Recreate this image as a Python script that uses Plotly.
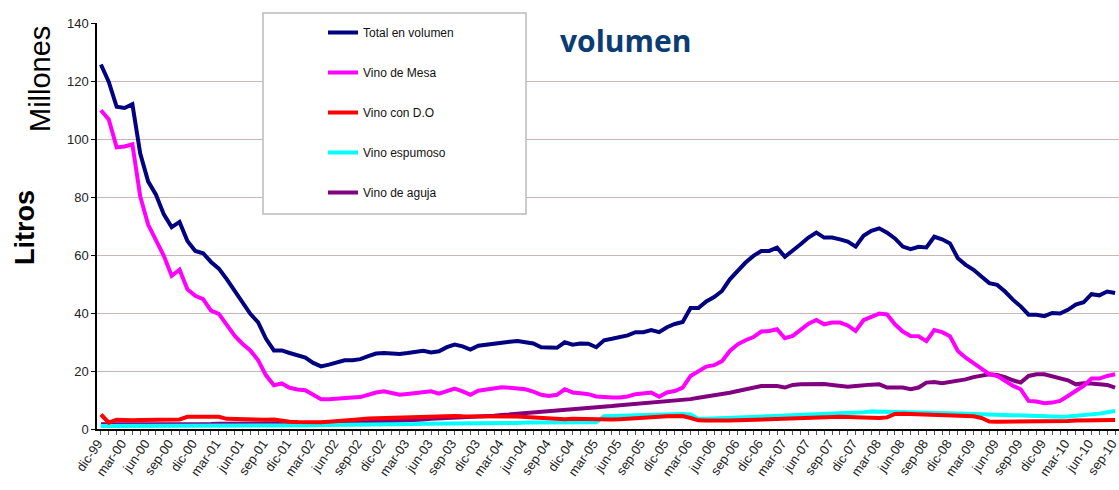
import plotly.graph_objects as go

# Monthly categories dic-99 .. sep-10 (130 months)
month_abbr = ["ene", "feb", "mar", "abr", "may", "jun", "jul", "ago", "sep", "oct", "nov", "dic"]
months = []
y, m = 1999, 11
for _ in range(130):
    months.append(f"{month_abbr[m]}-{y % 100:02d}")
    m += 1
    if m == 12:
        m = 0
        y += 1
tick_labels = months[::3]

total = [125.7, 119.7, 111.1, 110.7, 112.0, 95.0, 85.4, 80.8, 74.0, 69.6,
         71.4, 64.8, 61.4, 60.6, 57.6, 55.3, 51.7, 47.7, 43.7, 39.7,
         36.8, 31.1, 27.1, 27.1, 26.2, 25.4, 24.6, 22.8, 21.6, 22.2,
         23.0, 23.7, 23.7, 24.1, 25.1, 26.0, 26.2, 25.9, 25.9, 26.2,
         26.6, 27.0, 26.4, 26.8, 28.2, 29.1, 28.5, 27.4, 28.7, 29.1,
         29.4, 30.0, 30.1, 30.3, 29.9, 29.5, 28.2, 28.2, 28.0, 29.9,
         29.1, 29.5, 29.4, 28.2, 30.6, 31.1, 31.8, 32.3, 33.4, 33.4,
         34.1, 33.4, 35.1, 36.2, 36.9, 41.7, 41.7, 44.0, 45.5, 47.6,
         51.6, 54.7, 57.4, 59.7, 61.4, 61.4, 62.5, 59.4, 61.4, 63.7,
         66.0, 67.7, 66.0, 66.0, 65.4, 64.6, 62.9, 66.6, 68.3, 69.2,
         67.7, 65.7, 62.9, 62.0, 62.8, 62.6, 66.3, 65.4, 64.0, 58.9,
         56.6, 54.9, 52.6, 50.3, 49.7, 47.4, 44.6, 42.3, 39.4, 39.4,
         38.9, 40.0, 39.8, 41.1, 42.9, 43.7, 46.5, 46.1, 47.4, 46.9]

mesa = [109.9, 106.7, 97.1, 97.4, 98.2, 80.2, 70.5, 65.4, 59.7, 52.8,
        54.9, 48.2, 45.9, 44.8, 40.8, 39.7, 35.7, 32.2, 29.4, 27.1,
        23.7, 18.5, 15.1, 15.7, 14.2, 13.6, 13.4, 11.8, 10.3, 10.3,
        10.6, 10.9, 10.9, 11.0, 11.8, 12.6, 13.0, 12.4, 11.8, 12.1,
        12.4, 13.0, 13.0, 12.2, 13.2, 13.9, 13.0, 11.8, 13.2, 13.6,
        13.8, 14.4, 14.2, 14.1, 13.7, 12.9, 11.8, 11.4, 11.8, 13.7,
        12.6, 12.3, 12.0, 11.2, 10.9, 10.9, 10.9, 11.2, 12.0, 12.3,
        12.6, 11.1, 12.6, 13.1, 14.3, 18.3, 20.0, 21.5, 22.0, 23.4,
        26.9, 29.2, 30.6, 31.7, 33.6, 33.8, 34.4, 31.3, 32.1, 34.4,
        36.3, 37.6, 36.1, 36.7, 36.7, 35.7, 33.8, 37.5, 38.7, 39.8,
        39.5, 36.1, 33.6, 32.1, 32.0, 30.3, 34.1, 33.4, 32.0, 26.9,
        24.6, 22.9, 20.8, 18.9, 18.3, 16.6, 14.9, 13.7, 9.7, 9.5,
        8.9, 9.1, 9.7, 11.4, 13.1, 14.9, 17.4, 17.4, 18.3, 18.9]

con_do = [5.0, 2.2, 3.2, 3.0, 3.0, 3.1, 3.2, 3.3, 3.3, 3.2,
          3.3, 4.2, 4.2, 4.2, 4.4, 4.2, 3.5, 3.4, 3.3, 3.2,
          3.2, 3.2, 3.3, 2.8, 2.5, 2.4, 2.3, 2.3, 2.3, 2.5,
          2.8, 3.0, 3.2, 3.4, 3.6, 3.7, 3.8, 3.9, 4.0, 4.2,
          4.3, 4.4, 4.4, 4.4, 4.5, 4.5, 4.4, 4.4, 4.3, 4.3,
          4.3, 4.4, 4.5, 4.3, 4.1, 3.9, 3.7, 3.5, 3.4, 3.4,
          3.5, 3.4, 3.4, 3.3, 3.3, 3.3, 3.4, 3.5, 3.6, 3.8,
          4.0, 4.2, 4.4, 4.5, 4.5, 3.8, 3.0, 2.9, 2.8, 2.8,
          2.9, 3.0, 3.1, 3.2, 3.3, 3.4, 3.5, 3.7, 3.8, 3.9,
          4.0, 4.1, 4.2, 4.3, 4.2, 4.1, 4.0, 3.9, 3.8, 3.8,
          4.0, 5.2, 5.3, 5.2, 5.3, 5.2, 5.1, 5.0, 4.9, 4.8,
          4.6, 4.4, 3.8, 2.6, 2.5, 2.5, 2.5, 2.5, 2.5, 2.5,
          2.5, 2.6, 2.7, 2.8, 2.9, 3.0, 3.0, 3.1, 3.1, 3.1]

espumoso = [1.0, 1.0, 1.0, 1.0, 1.0, 1.0, 1.0, 1.0, 1.1, 1.1,
            1.1, 1.2, 1.2, 1.3, 1.3, 1.3, 1.3, 1.3, 1.3, 1.3,
            1.3, 1.3, 1.3, 1.3, 1.3, 1.3, 1.3, 1.3, 1.4, 1.4,
            1.4, 1.4, 1.5, 1.5, 1.5, 1.6, 1.6, 1.6, 1.7, 1.7,
            1.7, 1.8, 1.8, 1.8, 1.9, 1.9, 1.9, 2.0, 2.0, 2.0,
            2.0, 2.1, 2.1, 2.1, 2.2, 2.2, 2.2, 2.2, 2.2, 2.3,
            2.3, 2.3, 2.3, 2.3, 4.4, 4.5, 4.5, 4.6, 4.6, 4.7,
            4.8, 4.9, 5.0, 5.1, 5.2, 5.0, 3.5, 3.5, 3.6, 3.7,
            3.8, 3.9, 4.0, 4.1, 4.2, 4.3, 4.4, 4.5, 4.6, 4.7,
            4.8, 4.9, 5.0, 5.1, 5.2, 5.4, 5.6, 5.8, 6.0, 6.0,
            5.9, 5.8, 5.7, 5.7, 5.7, 5.6, 5.6, 5.5, 5.5, 5.4,
            5.3, 5.2, 5.1, 5.0, 4.9, 4.8, 4.7, 4.5, 4.4, 4.3,
            4.2, 4.2, 4.2, 4.3, 4.5, 4.7, 5.0, 5.3, 5.8, 6.2]

aguja = [1.6, 1.6, 1.6, 1.6, 1.7, 1.7, 1.7, 1.7, 1.6, 1.5,
         1.4, 1.4, 1.5, 1.6, 1.7, 1.8, 1.8, 1.8, 1.8, 1.8,
         1.8, 1.8, 1.8, 1.8, 1.8, 1.8, 1.8, 1.8, 1.9, 1.9,
         2.0, 2.0, 2.1, 2.2, 2.3, 2.4, 2.5, 2.6, 2.7, 2.9,
         3.1, 3.3, 3.5, 3.6, 3.8, 4.0, 4.2, 4.3, 4.4, 4.5,
         4.6, 4.8, 5.0, 5.2, 5.4, 5.6, 5.8, 6.0, 6.2, 6.4,
         6.7, 6.9, 7.2, 7.4, 7.6, 7.9, 8.2, 8.4, 8.7, 8.9,
         9.0, 9.2, 9.4, 9.6, 9.8, 10.3, 10.8, 11.2, 11.5, 12.0,
         12.5, 13.1, 13.7, 14.2, 14.8, 14.8, 14.8, 14.3, 15.2, 15.4,
         15.4, 15.6, 15.5, 15.2, 15.0, 14.6, 14.8, 15.2, 15.3, 15.4,
         14.3, 14.3, 14.3, 13.7, 14.3, 16.0, 16.2, 15.8, 16.2, 16.6,
         17.1, 17.9, 18.5, 18.9, 18.6, 17.9, 16.8, 16.0, 18.3, 18.9,
         18.9, 18.3, 17.5, 16.8, 15.4, 15.8, 15.7, 15.4, 15.2, 14.3]

series = [
    ("Total en volumen", total, "#000080"),
    ("Vino de Mesa", mesa, "#FF00FF"),
    ("Vino con D.O", con_do, "#FF0000"),
    ("Vino espumoso", espumoso, "#00FFFF"),
    ("Vino de aguja", aguja, "#800080"),
]

L, T, B = 97, 23, 61
W, H = 1119, 490
PW, PH = W - L, H - T - B


def px2paper(px, py):
    return (px - L) / PW, (H - B - py) / PH


fig = go.Figure()
draw_order = [4, 3, 2, 1, 0]
for k in draw_order:
    name, vals, color = series[k]
    fig.add_trace(go.Scatter(
        x=months, y=vals, mode="lines", name=name,
        line=dict(color=color, width=4), legendgroup=name,
        legendrank=k,
    ))

lx, ly = px2paper(323, 18)
bx0, by0 = px2paper(263, 214)
bx1, by1 = px2paper(526, 13)
tx, ty = px2paper(625, 40)
mx, my = px2paper(40, 79)
ltx, lty = px2paper(25, 228)

fig.update_layout(
    width=W, height=H,
    margin=dict(l=L, r=0, t=T, b=B),
    paper_bgcolor="white", plot_bgcolor="white",
    font=dict(family="Liberation Sans, Arial, sans-serif", size=12, color="#222222"),
    showlegend=True,
    legend=dict(
        x=lx, y=ly, xanchor="left", yanchor="top",
        bgcolor="rgba(0,0,0,0)", borderwidth=0,
        font=dict(size=12, color="#111111"),
        tracegroupgap=21, traceorder="grouped",
        itemwidth=30,
    ),
    xaxis=dict(
        type="category", categoryorder="array", categoryarray=months,
        range=[-0.5, 129.5], automargin=False,
        tickmode="array", tickvals=tick_labels, ticktext=tick_labels,
        tickangle=-55, tickfont=dict(size=13, color="#222222"),
        ticklabelshift=-3,
        showgrid=False, showline=True, linecolor="black", linewidth=1.5,
        ticks="",
        minor=dict(ticks="outside", ticklen=4, tickcolor="#555555", dtick=1),
    ),
    yaxis=dict(
        range=[0, 140], dtick=20, automargin=False,
        tickfont=dict(size=13, color="#222222"),
        showgrid=True, gridcolor="#CDB5B5", gridwidth=1.2,
        showline=True, linecolor="black", linewidth=1.5,
        ticks="outside", ticklen=4, tickcolor="black",
        zeroline=False,
    ),
    shapes=[dict(
        type="rect", xref="paper", yref="paper",
        x0=bx0, x1=bx1, y0=by0, y1=by1,
        fillcolor="white", line=dict(color="#BBBBBB", width=1.5),
        layer="above",
    )],
    annotations=[
        dict(text="<b>volumen</b>", x=tx, y=ty, xref="paper", yref="paper",
             xanchor="center", yanchor="middle", showarrow=False,
             font=dict(size=30, color="#0B3C73",
                       family="Open Sans, Liberation Sans, sans-serif")),
        dict(text="Millones", x=mx, y=my, xref="paper", yref="paper",
             xanchor="center", yanchor="middle", showarrow=False, textangle=-90,
             font=dict(size=29, color="black")),
        dict(text="<b>Litros</b>", x=ltx, y=lty, xref="paper", yref="paper",
             xanchor="center", yanchor="middle", showarrow=False, textangle=-90,
             font=dict(size=27, color="black")),
    ],
)

fig.write_html("out.html",
               config={"displayModeBar": False},
               post_script="document.body.style.margin='0px';document.body.style.overflow='hidden';")
